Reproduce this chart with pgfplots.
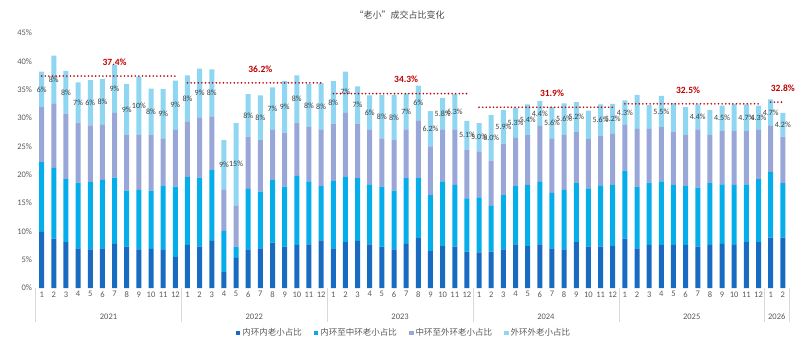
\documentclass[border=0pt]{standalone}
\usepackage{fontspec}
\setmainfont{Carlito}
\newfontfamily\cjk{Noto Sans CJK SC}
\usepackage{pgfplots}
\usepackage{pgfplotstable}
\pgfplotsset{compat=1.18}
\definecolor{c1}{HTML}{176BC0}
\definecolor{c2}{HTML}{05AEEA}
\definecolor{c3}{HTML}{99A6D8}
\definecolor{c4}{HTML}{8ED6F1}
\definecolor{avgred}{HTML}{C00000}
\definecolor{txt}{HTML}{595959}
\definecolor{lbl}{HTML}{404040}
\definecolor{sepc}{HTML}{D9D9D9}
\def\nolab{-}
\pgfplotstableread{
x a b c d lab
0 9.9 12.3 9.7 6.3 6
1 8.7 12.5 11.3 8.5 8
2 8.1 11.1 11.5 7.6 8
3 7.0 11.6 10.6 7.1 7
4 6.8 11.9 10.0 8.0 6
5 7.0 12.1 9.7 8.1 8
6 7.8 11.7 11.4 8.5 9
7 7.3 9.9 9.8 9.0 9
8 6.8 10.5 9.7 10.3 10
9 6.9 10.3 9.8 8.2 8
10 6.8 11.2 8.4 8.7 9
11 5.5 12.4 10.0 8.7 9
12 7.6 12.0 9.8 8.1 8
13 7.3 12.2 10.6 8.6 9
14 8.3 12.5 9.5 8.3 8
15 2.8 7.3 7.2 8.8 9
16 5.3 2.0 7.3 14.5 15
17 6.8 10.7 9.2 7.5 8
18 7.0 10.0 9.1 7.9 8
19 8.0 11.1 8.8 7.5 7
20 7.3 10.6 9.5 9.1 9
21 7.6 12.2 9.4 8.3 8
22 7.7 11.1 9.6 7.6 8
23 8.4 9.6 9.9 8.3 8
24 7.0 11.9 10.1 7.5 8
25 8.1 11.5 11.3 7.3 7
26 8.3 11.1 9.6 6.6 7
27 7.7 10.6 9.6 6.1 6
28 7.3 10.6 8.5 7.7 8
29 6.8 10.4 8.9 8.0 8
30 7.8 11.6 8.6 6.3 7
31 8.8 10.6 10.2 6.1 6
32 6.5 9.9 8.6 6.2 6.2
33 7.4 11.4 9.1 5.6 5.8
34 7.3 10.9 9.7 6.3 6.3
35 6.4 9.4 8.6 5.1 5.1
36 6.3 9.7 8.1 5.0 5.0
37 6.4 8.2 7.9 8.0 8.0
38 6.8 9.6 9.1 5.9 5.9
39 7.7 10.3 8.5 5.3 5.3
40 7.4 10.8 8.8 5.4 5.4
41 7.7 11.1 9.8 4.4 4.4
42 7.0 9.8 9.5 5.6 5.6
43 6.8 10.5 9.7 5.6 5.6
44 8.1 10.4 9.1 5.2 5.2
45 7.3 10.3 8.7 5.0 -
46 7.3 10.8 8.7 5.6 5.6
47 7.4 10.8 9.1 5.2 5.2
48 8.7 12.0 8.1 4.3 4.3
49 7.0 10.8 10.3 6.0 -
50 7.6 11.0 9.5 4.2 -
51 7.6 11.2 9.6 5.5 5.5
52 7.6 10.6 9.4 5.0 -
53 7.6 10.4 9.0 4.9 -
54 7.3 10.4 10.3 4.4 4.4
55 7.6 10.9 8.5 4.4 -
56 7.8 10.5 9.4 4.5 4.5
57 7.6 10.6 9.5 4.8 -
58 8.1 10.2 9.4 4.7 4.7
59 8.1 11.1 8.7 4.3 4.3
60 8.9 11.6 8.1 4.7 4.7
61 8.9 9.6 8.2 4.2 4.2
}\data
\pgfplotsset{
  base/.style={at={(35.6pt,63pt)}, anchor=south west,
    width=753.3pt, height=255pt, scale only axis,
    xmin=-0.5, xmax=61.5, ymin=0, ymax=45, clip=false},
  avg/.style={color=avgred, line width=1.8pt, line cap=round, dash pattern=on 0pt off 3.6pt},
}
\begin{document}
\begin{tikzpicture}
\useasboundingbox (0,0) rectangle (799pt,351pt);
\node[font=\cjk\fontsize{9}{10}\selectfont, text=txt!80!black] at (399.5pt,336pt) {“老小”成交占比变化};
\begin{axis}[base,
  ybar stacked, bar width=5pt,
  axis line style={draw=none}, tick style={draw=none},
  ytick={0,5,...,45},
  yticklabel={\pgfmathprintnumber{\tick}\%},
  /pgf/number format/assume math mode=true,
  yticklabel style={font=\fontsize{8.5}{10}\selectfont, text=txt},
  xtick={0,...,61},
  xticklabels={1,2,3,4,5,6,7,8,9,10,11,12,1,2,3,4,5,6,7,8,9,10,11,12,1,2,3,4,5,6,7,8,9,10,11,12,1,2,3,4,5,6,7,8,9,10,11,12,1,2,3,4,5,6,7,8,9,10,11,12,1,2},
  xticklabel style={font=\fontsize{8.5}{10}\selectfont, text=txt},
  legend columns=4,
  legend image code/.code={\fill[#1] (0pt,-2.3pt) rectangle (4.6pt,2.3pt);},
  legend style={draw=none, fill=none, at={(0.489,-0.176)}, anchor=center,
    font=\cjk\fontsize{8.5}{10}\selectfont, text=txt, inner sep=0pt,
    /tikz/every even column/.append style={column sep=10pt}},
]
\addplot[fill=c1, draw=none] table[x=x, y=a] {\data};
\addplot[fill=c2, draw=none] table[x=x, y=b] {\data};
\addplot[fill=c3, draw=none] table[x=x, y=c] {\data};
\addplot[fill=c4, draw=none] table[x=x, y=d] {\data};
\addlegendentry{内环内老小占比}
\addlegendentry{内环至中环老小占比}
\addlegendentry{中环至外环老小占比}
\addlegendentry{外环外老小占比}
\draw[sepc] (axis cs:-0.5,0) -- ++(0pt,-34pt);
\draw[sepc] (axis cs:11.5,0) -- ++(0pt,-34pt);
\draw[sepc] (axis cs:23.5,0) -- ++(0pt,-34pt);
\draw[sepc] (axis cs:35.5,0) -- ++(0pt,-34pt);
\draw[sepc] (axis cs:47.5,0) -- ++(0pt,-34pt);
\draw[sepc] (axis cs:59.5,0) -- ++(0pt,-34pt);
\draw[sepc] (axis cs:61.5,0) -- ++(0pt,-34pt);
\path[font=\fontsize{8.5}{10}\selectfont, text=txt]
  ([yshift=-29pt]axis cs:5.5,0) node {2021}
  ([yshift=-29pt]axis cs:17.5,0) node {2022}
  ([yshift=-29pt]axis cs:29.5,0) node {2023}
  ([yshift=-29pt]axis cs:41.5,0) node {2024}
  ([yshift=-29pt]axis cs:53.5,0) node {2025}
  ([yshift=-29pt]axis cs:60.5,0) node {2026};
\end{axis}
\begin{axis}[base, hide axis]
\addplot[draw=none, mark=none, point meta=explicit symbolic,
  nodes near coords={\edef\tmp{\pgfplotspointmeta}\ifx\tmp\nolab\else\tmp\%\fi},
  nodes near coords align={anchor=center},
  every node near coord/.append style={font=\fontsize{8}{9}\selectfont, text=lbl, inner sep=0pt}]
  table[x=x, y expr=\thisrow{a}+\thisrow{b}+\thisrow{c}+0.5*\thisrow{d}, meta=lab] {\data};
\addplot[avg] coordinates {(0,37.4) (11,37.4)};
\addplot[avg] coordinates {(12,36.2) (23,36.2)};
\addplot[avg] coordinates {(24,34.3) (35,34.3)};
\addplot[avg] coordinates {(36,31.9) (47,31.9)};
\addplot[avg] coordinates {(48,32.5) (59,32.5)};
\addplot[avg] coordinates {(60,32.8) (61,32.8)};
\path[font=\bfseries\fontsize{9.5}{11}\selectfont, text=avgred]
  ([yshift=14pt]axis cs:6,37.4) node {37.4\%}
  ([yshift=14pt]axis cs:18,36.2) node {36.2\%}
  ([yshift=14pt]axis cs:30,34.3) node {34.3\%}
  ([yshift=14pt]axis cs:42,31.9) node {31.9\%}
  ([yshift=14pt]axis cs:53.2,32.5) node {32.5\%}
  ([yshift=14pt]axis cs:61,32.8) node {32.8\%};
\end{axis}
\end{tikzpicture}
\end{document}
